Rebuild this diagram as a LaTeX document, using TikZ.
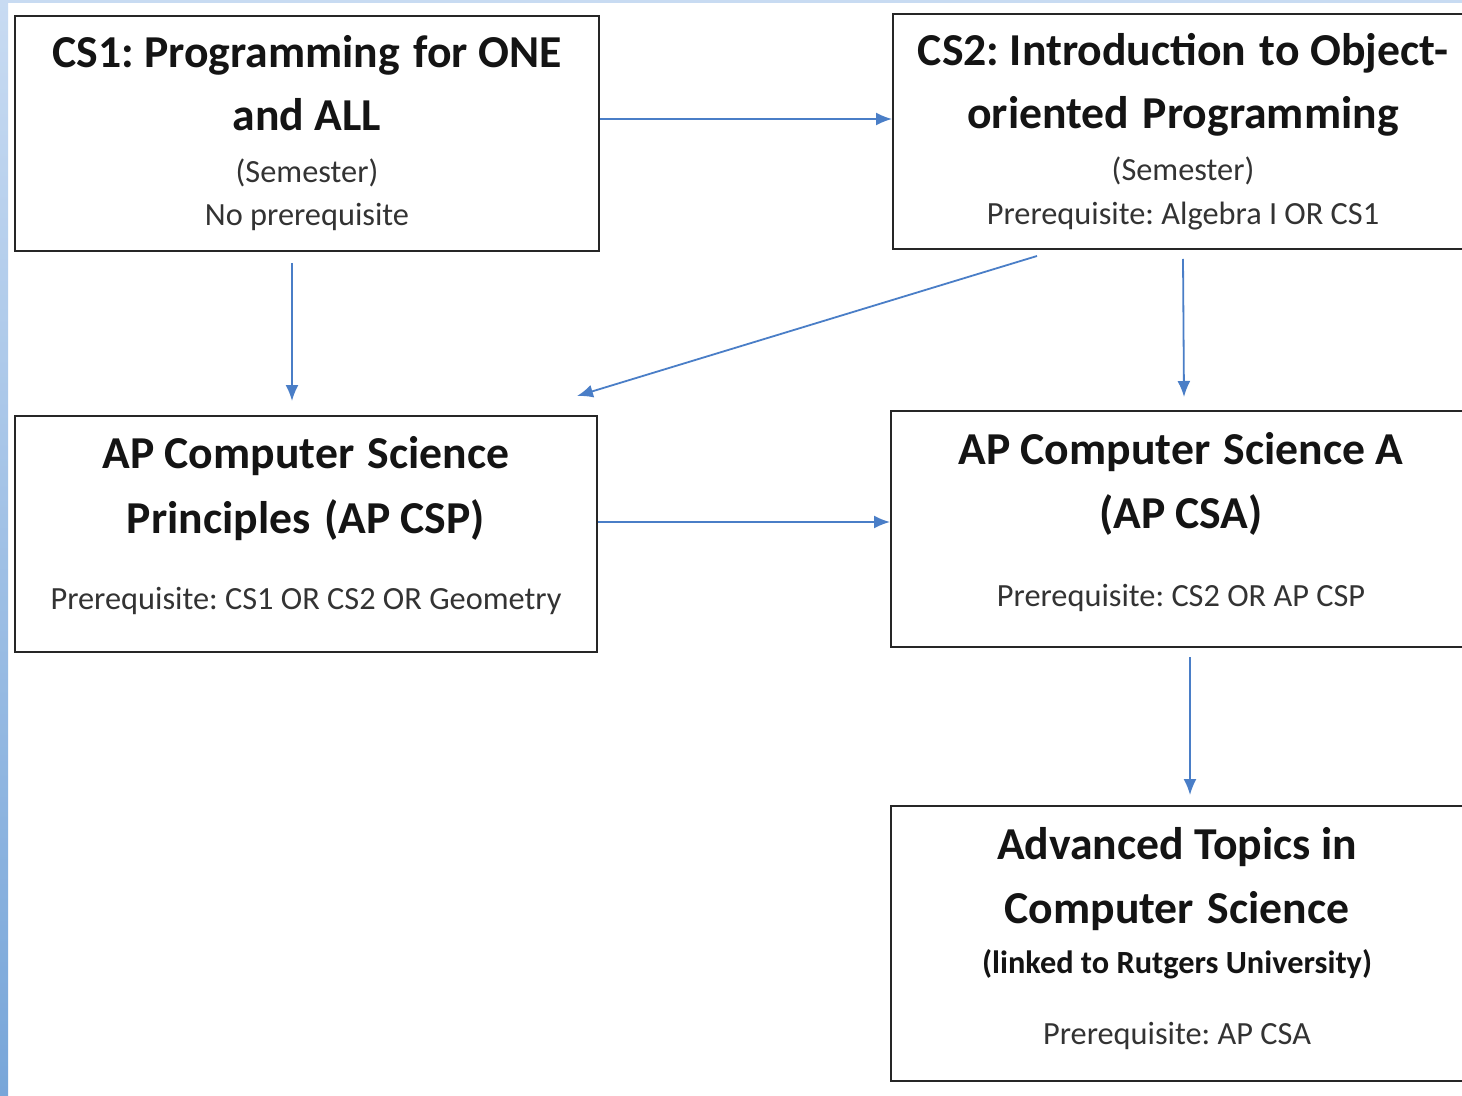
\documentclass[tikz,border=0pt]{standalone}
\usepackage{fontspec}
\setmainfont{Carlito}
\usetikzlibrary{arrows.meta}
\definecolor{linkblue}{RGB}{74,126,199}
\definecolor{edgelight}{RGB}{200,219,242}
\definecolor{edgedark}{RGB}{120,166,217}
\newcommand{\wgap}{\hspace{0.3em}}
\frenchspacing

\begin{document}
\begin{tikzpicture}[x=0.1mm, y=-0.1mm, >={Latex[length=1.6mm,width=1.3mm]}]
		\tikzstyle{course}=[draw=black!85, line width=0.2mm, rectangle, inner sep=0pt]
		\tikzstyle{title}=[font=\bfseries\fontsize{13pt}{15pt}\selectfont, anchor=base, inner sep=0pt, text=black!92]
		\tikzstyle{note}=[font=\fontsize{9.2pt}{11pt}\selectfont, anchor=base, inner sep=0pt, text=black!80]
		\tikzstyle{link}=[->, linkblue, line width=0.18mm]
		\useasboundingbox (0,0) rectangle (1462,1096);
		\fill[white] (0,0) rectangle (1462,1096);
		\shade[top color=edgelight, bottom color=edgedark] (0,0) rectangle (8,1096);
		\fill[edgelight] (8,0) rectangle (1462,3);
		\clip (0,0) rectangle (1462,1096);
	
		% boxes
		\node[course, minimum width=58.4mm, minimum height=23.5mm] (cs1) at (307,133.5) {};
		\node[course, minimum width=58mm, minimum height=23.5mm] (cs2) at (1183,131.5) {};
		\node[course, minimum width=58.2mm, minimum height=23.6mm] (csp) at (306,534) {};
		\node[course, minimum width=58mm, minimum height=23.6mm] (csa) at (1181,529) {};
		\node[course, minimum width=57.2mm, minimum height=27.5mm] (adv) at (1177,943.5) {};
	
		% texts
		\node[title] (cs1a) at (307,67.7) {CS1: Programming\wgap for ONE};
		\node[title] (cs1b) at (307,131) {and ALL};
		\node[note] (cs1c) at (307,183) {(Semester)};
		\node[note] (cs1d) at (307,226) {No prerequisite};
	
		\node[title] (cs2a) at (1183,66) {CS2: Introduction\wgap to Object-};
		\node[title] (cs2b) at (1183,129) {oriented\wgap Programming};
		\node[note] (cs2c) at (1183,181) {(Semester)};
		\node[note] (cs2d) at (1183,224) {Prerequisite: Algebra I OR CS1};
	
		\node[title] (cspa) at (306,468) {AP Computer\wgap Science};
		\node[title] (cspb) at (306,533) {Principles\wgap (AP CSP)};
		\node[note] (cspc) at (306,609) {Prerequisite: CS1 OR CS2 OR Geometry};
	
		\node[title] (csaa) at (1181,464) {AP Computer\wgap Science A};
		\node[title] (csab) at (1181,528) {(AP CSA)};
		\node[note] (csac) at (1181,606) {Prerequisite: CS2 OR AP CSP};
	
		\node[title] (adva) at (1177,859) {Advanced Topics in};
		\node[title] (advb) at (1177,923) {Computer\wgap Science};
		\node[note, font=\bfseries\fontsize{9.2pt}{11pt}\selectfont, text=black!92] (advc) at (1177,973) {(linked to Rutgers University)};
		\node[note] (advd) at (1177,1044) {Prerequisite: AP CSA};
	
		% arrows
		\draw[link] ([yshift=1.45mm]cs1.east) -- ([yshift=1.25mm]cs2.west);
		\draw[link] ([xshift=-1.5mm,yshift=-1.1mm]cs1.south) -- ([xshift=-1.4mm,yshift=1.4mm]csp.north);
		\draw[link] ([xshift=-14.6mm,yshift=-0.6mm]cs2.south) -- ([xshift=-2.1mm,yshift=1.9mm]csp.north east);
		\draw[link] ([yshift=-0.9mm]cs2.south) -- ([xshift=0.3mm,yshift=1.3mm]csa.north);
		\draw[link] ([yshift=1.2mm]csp.east) -- ([yshift=0.7mm]csa.west);
		\draw[link] ([xshift=0.9mm,yshift=-0.9mm]csa.south) -- ([xshift=1.3mm,yshift=1mm]adv.north);
	\end{tikzpicture}
\end{document}
